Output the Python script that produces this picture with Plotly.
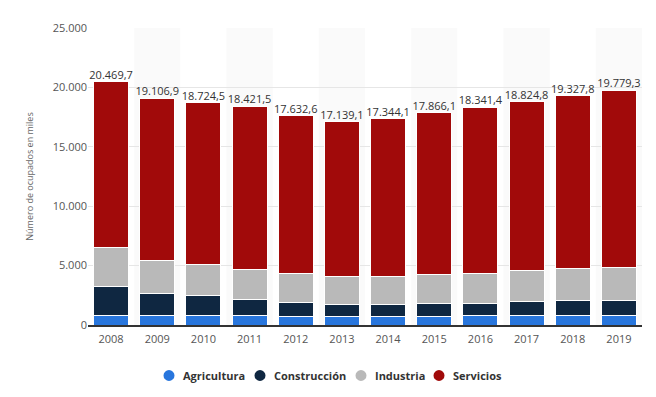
import plotly.graph_objects as go

years = ["2008", "2009", "2010", "2011", "2012", "2013", "2014", "2015", "2016", "2017", "2018", "2019"]
agricultura = [827.1, 786.1, 793.0, 760.2, 743.4, 736.6, 735.8, 736.8, 774.5, 819.9, 812.6, 797.3]
construccion = [2453.4, 1888.3, 1650.8, 1393.0, 1147.9, 1029.7, 993.5, 1073.7, 1073.9, 1128.3, 1221.8, 1277.9]
industria = [3239.1, 2775.5, 2610.5, 2555.3, 2430.1, 2355.5, 2380.2, 2482.0, 2525.8, 2646.3, 2708.7, 2760.1]
servicios = [13950.2, 13657.1, 13670.3, 13713.0, 13311.2, 13017.3, 13234.6, 13573.6, 13967.2, 14230.3, 14584.7, 14943.9]
totales = [20469.7, 19106.9, 18724.5, 18421.5, 17632.6, 17139.1, 17344.1, 17866.1, 18341.4, 18824.8, 19327.8, 19779.3]

series = [
    ("Agricultura", agricultura, "#2876dd"),
    ("Construcción", construccion, "#0f2741"),
    ("Industria", industria, "#b9b9b9"),
    ("Servicios", servicios, "#a10a0a"),
]

# the page body has an 8px default margin, so the figure is offset by 8px
OFF = 8
W, H = 656 - OFF, 397 - OFF
ML, MR, MT, MB = 88 - OFF, 14, 25 - OFF, 72
PW, PH = W - ML - MR, H - MT - MB

fig = go.Figure()
for name, vals, col in series:
    fig.add_trace(go.Bar(
        x=years, y=vals, name=name, marker=dict(color=col, line=dict(color="white", width=1)),
        showlegend=False, hoverinfo="y+name",
    ))

fig.add_trace(go.Scatter(
    x=years, y=totales, mode="text", text=totales, texttemplate="%{y:,.1f}",
    textposition="top center", textfont=dict(family="Open Sans, DejaVu Sans", size=11, color="#333333"),
    showlegend=False, hoverinfo="skip",
))

shapes = []
for i in range(len(years)):
    if i % 2 == 1:
        shapes.append(dict(type="rect", xref="x", yref="paper", x0=i - 0.5, x1=i + 0.5, y0=0, y1=1,
                           fillcolor="#fafafa", line=dict(width=0), layer="below"))

# custom legend (circle markers + bold labels) below the plot, page pixel positions
legend_cx = [169, 260, 361, 439]
legend_tx = [181, 272, 373, 451]
legend_y = 376
annotations = []
for (name, _, col), cx, tx in zip(series, legend_cx, legend_tx):
    xp = (cx - OFF - ML) / PW
    yp = (H - MB - (legend_y - OFF)) / PH
    rx = 5.5 / PW
    ry = 5.5 / PH
    shapes.append(dict(type="circle", xref="paper", yref="paper", x0=xp - rx, x1=xp + rx,
                       y0=yp - ry, y1=yp + ry, fillcolor=col, line=dict(width=0)))
    annotations.append(dict(xref="paper", yref="paper", x=(tx - OFF - ML) / PW, y=yp, xanchor="left",
                            yanchor="middle", showarrow=False, text="<b>%s</b>" % name,
                            font=dict(family="Open Sans, DejaVu Sans", size=11, color="#333333")))

fig.update_layout(
    barmode="stack",
    bargap=0.24,
    width=W, height=H,
    margin=dict(l=ML, r=MR, t=MT, b=MB),
    paper_bgcolor="white", plot_bgcolor="white",
    separators=",.",
    shapes=shapes,
    annotations=annotations,
    showlegend=False,
    font=dict(family="Open Sans, DejaVu Sans", color="#555555"),
    xaxis=dict(type="category", tickfont=dict(size=11, color="#555555"), showgrid=False,
               showline=True, linecolor="#333333", linewidth=1.5, ticks="outside", ticklen=3,
               tickcolor="rgba(0,0,0,0)", range=[-0.5, 11.5]),
    yaxis=dict(range=[0, 25000], dtick=5000, tickformat=",d", gridcolor="#e6e6e6",
               tickfont=dict(size=11, color="#555555"), zeroline=False, ticks="", ticklen=0,
               title=dict(text="Número de ocupados en miles", font=dict(size=9, color="#666666"), standoff=17)),
)

fig.write_html("out.html")
